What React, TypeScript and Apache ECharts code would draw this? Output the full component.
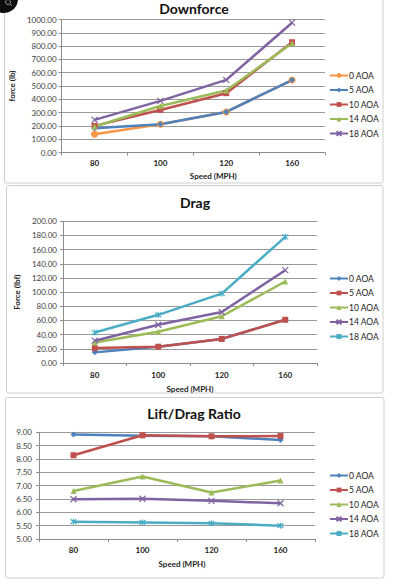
import React, { useEffect, useRef } from "react";
import * as echarts from "echarts";

const speeds = ["80", "100", "120", "160"];
const aoaLabels = ["0 AOA", "5 AOA", "10 AOA", "14 AOA", "18 AOA"];

const downforce0 = [138, 213, 305, 545];
const downforce5 = [183, 213, 305, 545];
const downforce10 = [200, 320, 446, 829];
const downforce14 = [195, 350, 466, 821];
const downforce18 = [245, 388, 546, 976];

const drag0 = [15, 23, 34, 61];
const drag5 = [21, 23, 34, 61];
const drag10 = [29, 44, 66, 115];
const drag14 = [31.5, 54, 72, 131];
const drag18 = [43, 68, 98, 178];

const ld0 = [8.92, 8.87, 8.85, 8.71];
const ld5 = [8.14, 8.89, 8.85, 8.86];
const ld10 = [6.8, 7.34, 6.74, 7.19];
const ld14 = [6.49, 6.51, 6.43, 6.34];
const ld18 = [5.65, 5.62, 5.59, 5.5];

const FONT = "Lato, 'Open Sans', sans-serif";
const BLUE = "#4F81BD";
const RED = "#C0504D";
const GREEN = "#9BBB59";
const PURPLE = "#8064A2";
const CYAN = "#4BACC6";
const ORANGE = "#F79646";

const X_SYM = "path://M0,0 L10,10 M10,0 L0,10";
const STAR_SYM = "path://M1,1 L9,9 M9,1 L1,9 M5,0 L5,10";

type Panel = {
  key: string;
  title: string;
  yName: string;
  min: number;
  max: number;
  interval: number;
  values: number[][];
  colors: string[];
  symbols: string[];
};

const panels: Panel[] = [
  {
    key: "Downforce",
    title: "Downforce",
    yName: "force (lb)",
    min: 0,
    max: 1000,
    interval: 100,
    values: [downforce0, downforce5, downforce10, downforce14, downforce18],
    colors: [ORANGE, BLUE, RED, GREEN, PURPLE],
    symbols: ["circle", "diamond", "rect", "triangle", X_SYM],
  },
  {
    key: "Drag",
    title: "Drag",
    yName: "Force (lbf)",
    min: 0,
    max: 200,
    interval: 20,
    values: [drag0, drag5, drag10, drag14, drag18],
    colors: [BLUE, RED, GREEN, PURPLE, CYAN],
    symbols: ["diamond", "rect", "triangle", X_SYM, STAR_SYM],
  },
  {
    key: "LD",
    title: "Lift/Drag Ratio",
    yName: "",
    min: 5,
    max: 9,
    interval: 0.5,
    values: [ld0, ld5, ld10, ld14, ld18],
    colors: [BLUE, RED, GREEN, PURPLE, CYAN],
    symbols: ["diamond", "rect", "triangle", X_SYM, STAR_SYM],
  },
];

const layout = [
  { grid: { left: 53, top: 19.5, width: 272, height: 133 }, titleTop: 1, titleX: 194, legendTop: 71, xLabelMargin: 6, xNameGap: 19, xNamePad: 40, yNameGap: 38, yLabelMargin: 5 },
  { grid: { left: 63, top: 221.3, width: 254, height: 141.7 }, titleTop: 195, titleX: 195, legendTop: 274, xLabelMargin: 8, xNameGap: 22, xNamePad: 0, yNameGap: 38, yLabelMargin: 6 },
  { grid: { left: 39, top: 432.3, width: 276, height: 106.7 }, titleTop: 406, titleX: 194, legendTop: 471, xLabelMargin: 7, xNameGap: 21, xNamePad: 10, yNameGap: 30, yLabelMargin: 7 },
];

const panelRects = [
  { x: 4.5, y: -1, w: 378.5, h: 184 },
  { x: 6.5, y: 185.5, w: 376.5, h: 207.5 },
  { x: 5.5, y: 397.5, w: 378.5, h: 180.5 },
];

function buildOption() {
  const grid: any[] = [];
  const xAxis: any[] = [];
  const yAxis: any[] = [];
  const title: any[] = [];
  const legend: any[] = [];
  const series: any[] = [];

  panels.forEach((p, i) => {
    const L = layout[i];
    grid.push({ ...L.grid, containLabel: false });
    title.push({
      text: p.title,
      left: L.titleX,
      top: L.titleTop,
      textAlign: "center",
      padding: 0,
      textStyle: { fontFamily: FONT, fontSize: 14, fontWeight: "bold", color: "#111" },
    });
    xAxis.push({
      type: "category",
      gridIndex: i,
      data: speeds,
      boundaryGap: true,
      name: "Speed (MPH)",
      nameLocation: "middle",
      nameGap: L.xNameGap,
      nameTextStyle: { fontFamily: FONT, fontSize: 8, fontWeight: "bold", color: "#222", padding: [0, 0, 0, L.xNamePad] },
      axisLine: { show: true, lineStyle: { color: "#8c8c8c", width: 1 } },
      axisTick: { show: true, length: 3, lineStyle: { color: "#8c8c8c" } },
      axisLabel: { fontFamily: FONT, fontSize: 8, fontWeight: "bold", color: "#222", margin: L.xLabelMargin },
      splitLine: { show: false },
    });
    yAxis.push({
      type: "value",
      gridIndex: i,
      min: p.min,
      max: p.max,
      interval: p.interval,
      name: p.yName,
      nameLocation: "middle",
      nameGap: L.yNameGap,
      nameRotate: 90,
      nameTextStyle: { fontFamily: FONT, fontSize: 8, fontWeight: "bold", color: "#222" },
      axisLine: { show: true, lineStyle: { color: "#8c8c8c", width: 1 } },
      axisTick: { show: true, length: 3, lineStyle: { color: "#8c8c8c" } },
      axisLabel: {
        fontFamily: FONT,
        fontSize: 8,
        color: "#404040",
        margin: L.yLabelMargin,
        formatter: (v: number) => v.toFixed(2),
      },
      splitLine: { show: true, lineStyle: { color: "#9a9a9a", width: 1 } },
    });
    const names = aoaLabels.map((a) => `${p.key}|${a}`);
    legend.push({
      orient: "vertical",
      left: 329,
      top: L.legendTop,
      padding: 0,
      itemWidth: 18,
      itemHeight: 6,
      itemGap: 5.5,
      data: names,
      formatter: (n: string) => n.split("|")[1],
      textStyle: { fontFamily: FONT, fontSize: 8.5, color: "#222", lineHeight: 8, padding: [0, 0, 0, -4] },
      selectedMode: false,
    });
    p.values.forEach((vals, k) => {
      const sym = p.symbols[k];
      const isPath = sym.startsWith("path://");
      series.push({
        type: "line",
        name: names[k],
        xAxisIndex: i,
        yAxisIndex: i,
        data: vals,
        symbol: sym,
        symbolSize: isPath ? 6 : sym === "circle" ? 7 : 6,
        showSymbol: true,
        lineStyle: { color: p.colors[k], width: 2.5 },
        itemStyle: {
          color: p.colors[k],
          borderColor: p.colors[k],
          borderWidth: isPath ? 1.2 : 0,
        },
      });
    });
  });

  const graphic: any[] = panelRects.map((r) => ({
    type: "rect",
    silent: true,
    z: -10,
    shape: { x: r.x, y: r.y, width: r.w, height: r.h, r: 2 },
    style: { fill: "#ffffff", stroke: "#cfcfcf", lineWidth: 1 },
  }));
  graphic.push({
    type: "circle",
    silent: true,
    z: 100,
    shape: { cx: 4, cy: -1, r: 14 },
    style: { fill: "#0d0d0d" },
  });
  graphic.push({
    type: "circle",
    silent: true,
    z: 101,
    shape: { cx: 8, cy: 2, r: 2.5 },
    style: { fill: "none", stroke: "#9a9a9a", lineWidth: 1 },
  });
  graphic.push({
    type: "line",
    silent: true,
    z: 101,
    shape: { x1: 10, y1: 4, x2: 12, y2: 6 },
    style: { stroke: "#9a9a9a", lineWidth: 1 },
  });

  return {
    animation: false,
    backgroundColor: "#ffffff",
    textStyle: { fontFamily: FONT },
    title,
    grid,
    xAxis,
    yAxis,
    legend,
    series,
    graphic,
  };
}

export default function App() {
  const ref = useRef<HTMLDivElement>(null);
  useEffect(() => {
    if (!ref.current) return;
    const chart = echarts.init(ref.current, undefined, { renderer: "svg" });
    chart.setOption(buildOption() as any);
    return () => chart.dispose();
  }, []);
  return (
    <div
      ref={ref}
      style={{ position: "fixed", left: 0, top: 0, width: 416, height: 584, background: "#fff" }}
    />
  );
}
